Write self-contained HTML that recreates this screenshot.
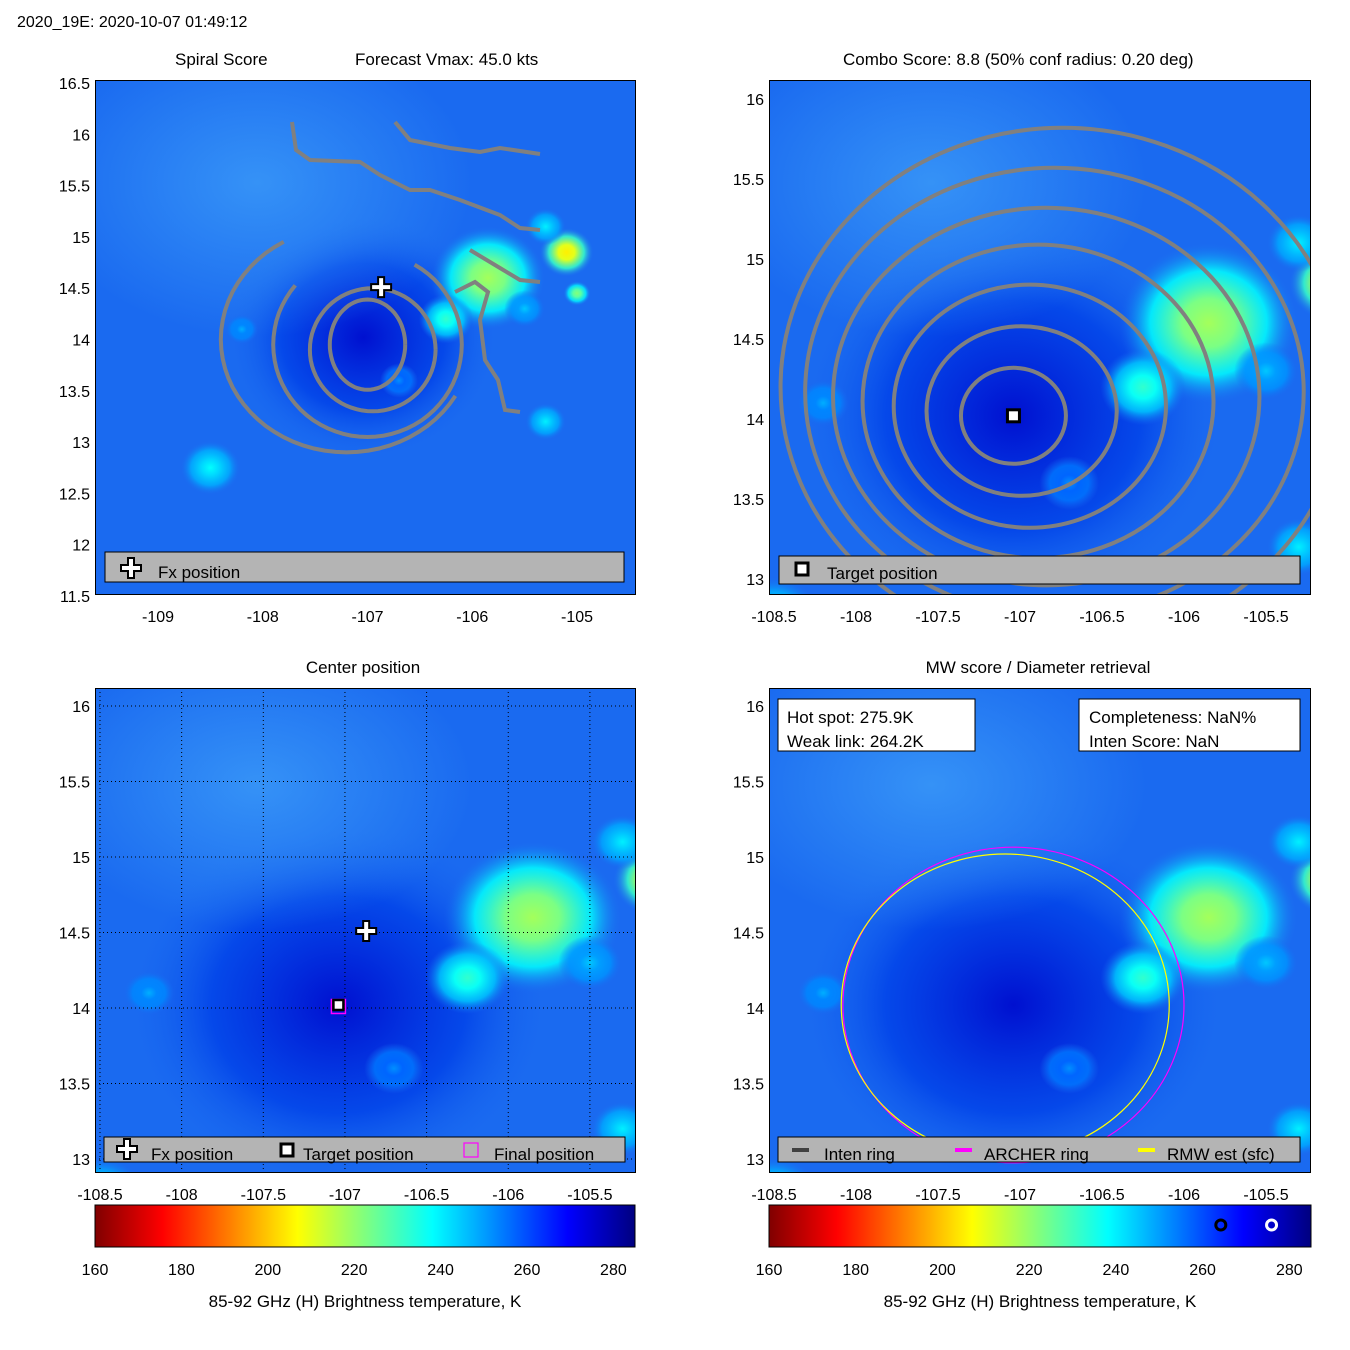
<!DOCTYPE html>
<html><head><meta charset="utf-8">
<style>
body{margin:0;background:#fff;}
svg{display:block;font-family:"Liberation Sans",sans-serif;}
text{fill:#000;}
</style></head>
<body>
<svg id="s" width="1350" height="1350" xmlns="http://www.w3.org/2000/svg">
<defs>
<linearGradient id="jetR" x1="0" x2="1" y1="0" y2="0">
<stop offset="0" stop-color="#800000"/><stop offset="0.125" stop-color="#ff0000"/>
<stop offset="0.375" stop-color="#ffff00"/><stop offset="0.625" stop-color="#00ffff"/>
<stop offset="0.875" stop-color="#0000ff"/><stop offset="1" stop-color="#000080"/>
</linearGradient>
<clipPath id="cTL"><rect x="95" y="80" width="540" height="514"/></clipPath>
<clipPath id="cTR"><rect x="769" y="80" width="541" height="514"/></clipPath>
<clipPath id="cBL"><rect x="95" y="688" width="540" height="484"/></clipPath>
<clipPath id="cBR"><rect x="769" y="688" width="541" height="484"/></clipPath>
</defs>
<text x="17" y="27" font-size="16">2020_19E: 2020-10-07 01:49:12</text>
<text x="175" y="65" font-size="17">Spiral Score</text>
<text x="355" y="65" font-size="17">Forecast Vmax: 45.0 kts</text>
<text x="843" y="65" font-size="17">Combo Score: 8.8  (50% conf radius: 0.20 deg)</text>
<text x="363" y="673" font-size="17" text-anchor="middle">Center position</text>
<text x="1038" y="673" font-size="17" text-anchor="middle">MW score / Diameter retrieval</text>
<g id="root"></g>
</svg>
<script>
// ---- data ----
const tlXTicks=[-109,-108,-107,-106,-105];
const tlYTicks=[16.5,16,15.5,15,14.5,14,13.5,13,12.5,12,11.5];
const xTicks2=[-108.5,-108,-107.5,-107,-106.5,-106,-105.5];
const trYTicks=[16,15.5,15,14.5,14,13.5,13];
const cbTicks=[160,180,200,220,240,260,280];
// warm spots: lon, lat, Tb(K), radius(deg)
const spotLon=[-105.1,-105.85,-106.25,-105.3,-105.5,-108.5,-106.7,-108.2,-105.0,-105.3];
const spotLat=[14.85,14.6,14.2,13.2,14.3,12.75,13.6,14.1,14.45,15.1];
const spotT=[205,218,232,240,245,238,252,248,222,240];
const spotR=[0.2,0.42,0.2,0.15,0.15,0.22,0.14,0.12,0.1,0.15];
// TL contour ellipses: center lon, lat, rLon, rLat (deg), arc start/end deg
const tlCLon=[-107.0,-106.95,-107.0,-107.2];
const tlCLat=[13.95,13.9,13.95,14.0];
const tlRLon=[0.36,0.6,0.9,1.2];
const tlRLat=[0.44,0.6,0.9,1.1];
const tlA0=[0,0,140,120];
const tlA1=[360,360,420,330];
// TR concentric contours around target
const trRLon=[0.32,0.58,0.83,1.07,1.3,1.52,1.72];
const trRLat=[0.3,0.53,0.76,0.98,1.18,1.4,1.62];
const target=[-107.04,14.02];
const fx=[-106.87,14.51];
const finalPos=[-107.04,14.01];
const hotSpot=275.9, weakLink=264.2;
const rmwR=[1.0,1.0], archerR=[1.04,1.045];
// ---- helpers ----
const NS="http://www.w3.org/2000/svg";
const root=document.getElementById('root');
function mk(tag,at,par){const e=document.createElementNS(NS,tag);for(const k in at)e.setAttribute(k,at[k]);(par||root).appendChild(e);return e;}
function jet(T){let v=(285-T)/125;v=Math.max(0,Math.min(1,v));
 const f=(a)=>Math.max(0,Math.min(1,1.5-Math.abs(4*v-a)));
 return `rgb(${Math.round(255*f(3))},${Math.round(255*f(2))},${Math.round(255*f(1))})`;}
const panels=[
 {k:'TL',x0:95,y0:80,w:540,h:514,ax:(l)=>158+(l+109)*104.75,ay:(a)=>83+(16.5-a)*102.6,xt:tlXTicks,yt:tlYTicks,sx:104.75,sy:102.6},
 {k:'TR',x0:769,y0:80,w:541,h:514,ax:(l)=>774+(l+108.5)*164,ay:(a)=>99+(16-a)*160,xt:xTicks2,yt:trYTicks,sx:164,sy:160},
 {k:'BL',x0:95,y0:688,w:540,h:484,ax:(l)=>100+(l+108.5)*163.3,ay:(a)=>706+(16-a)*151,xt:xTicks2,yt:trYTicks,sx:163.3,sy:151},
 {k:'BR',x0:769,y0:688,w:541,h:484,ax:(l)=>774+(l+108.5)*164,ay:(a)=>706+(16-a)*151,xt:xTicks2,yt:trYTicks,sx:164,sy:151}
];
panels.forEach((p,pi)=>{
 const g=mk('g',{'clip-path':`url(#c${p.k})`});
 
 
 const bg=mk('rect',{x:p.x0,y:p.y0,width:p.w,height:p.h,fill:'#1a6af0'},g);
 const rg=mk('radialGradient',{id:'dk'+pi},document.querySelector('defs'));
 mk('stop',{offset:'0','stop-color':'#0010d0'},rg);mk('stop',{offset:'0.6','stop-color':'#0040e8','stop-opacity':'0.8'},rg);mk('stop',{offset:'1','stop-color':'#1a6af0','stop-opacity':'0'},rg);
 const dk=mk('ellipse',{cx:p.ax(target[0]),cy:p.ay(target[1]),rx:p.sx*1.3,ry:p.sy*1.2,fill:`url(#dk${pi})`},g);
 
 const lg=mk('radialGradient',{id:'lt'+pi},document.querySelector('defs'));
 mk('stop',{offset:'0','stop-color':'#3c9cf8','stop-opacity':'0.8'},lg);mk('stop',{offset:'1','stop-color':'#3c9cf8','stop-opacity':'0'},lg);
 mk('ellipse',{cx:p.x0+p.w*0.3,cy:p.y0+p.h*0.2,rx:p.w*0.4,ry:p.h*0.3,fill:`url(#lt${pi})`},g);
 spotLon.forEach((lo,i)=>{
  const gid=`sp${pi}_${i}`;const sg=mk('radialGradient',{id:gid},document.querySelector('defs'));
  mk('stop',{offset:'0','stop-color':jet(spotT[i])},sg);mk('stop',{offset:'0.3','stop-color':jet(spotT[i]+5)},sg);mk('stop',{offset:'0.65','stop-color':jet((spotT[i]+258)/2),'stop-opacity':'0.85'},sg);mk('stop',{offset:'1','stop-color':'#1a6af0','stop-opacity':'0'},sg);
  const c=mk('ellipse',{cx:p.ax(lo),cy:p.ay(spotLat[i]),rx:spotR[i]*p.sx*1.3,ry:spotR[i]*p.sy*1.2,fill:`url(#${gid})`},g);
  
 });
 if(p.k==='TL'){
  tlCLon.forEach((lo,i)=>{
   let d='';for(let a=tlA0[i];a<=tlA1[i];a+=5){const r=a*Math.PI/180;const x=p.ax(lo+tlRLon[i]*Math.cos(r)),y=p.ay(tlCLat[i]+tlRLat[i]*Math.sin(r));d+=(d?'L':'M')+x.toFixed(1)+','+y.toFixed(1);}
   const c=mk('path',{d:d,fill:'none',stroke:'#808080','stroke-width':4},g);
   
  });
  const c1=mk('path',{d:'M292,122 L296,150 L310,160 L360,162 L380,175 L410,190 L430,190 L460,200 L500,215 L520,228 L540,230',fill:'none',stroke:'#808080','stroke-width':4},g);
  
  const c2=mk('path',{d:'M395,122 L410,140 L450,148 L480,152 L500,148 L540,154',fill:'none',stroke:'#808080','stroke-width':4},g);
  
  const c3=mk('path',{d:'M470,250 L500,268 L520,280 L540,282 M455,292 L475,282 L488,292 L480,320 L485,360 L498,380 L505,410 L520,412',fill:'none',stroke:'#808080','stroke-width':4},g);
  
 }
 if(p.k==='TR'){
  trRLon.forEach((rl,i)=>{
   const c=mk('ellipse',{cx:p.ax(target[0]+0.05*i),cy:p.ay(target[1]+0.03*i),rx:rl*p.sx,ry:trRLat[i]*p.sy,fill:'none',stroke:'#808080','stroke-width':4},g);
   
  });
 }
 if(p.k==='BL'){
  p.xt.forEach(t=>{const l=mk('line',{x1:p.ax(t),x2:p.ax(t),y1:p.y0,y2:p.y0+p.h,stroke:'#000','stroke-width':1,'stroke-dasharray':'1,3'},g);});
  p.yt.forEach(t=>{const l=mk('line',{x1:p.x0,x2:p.x0+p.w,y1:p.ay(t),y2:p.ay(t),stroke:'#000','stroke-width':1,'stroke-dasharray':'1,3'},g);});
 }
 if(p.k==='BR'){
  const a=mk('ellipse',{cx:p.ax(target[0]),cy:p.ay(target[1]),rx:archerR[0]*p.sx,ry:archerR[1]*p.sy,fill:'none',stroke:'#ff00ff','stroke-width':1.2},g);
  
  const y=mk('ellipse',{cx:p.ax(target[0]-0.05),cy:p.ay(target[1]),rx:rmwR[0]*p.sx,ry:rmwR[1]*p.sy,fill:'none',stroke:'#ffff00','stroke-width':1.2},g);
  
 }
 const fr=mk('rect',{x:p.x0+0.5,y:p.y0+0.5,width:p.w,height:p.h,fill:'none',stroke:'#000','stroke-width':1});
 
 p.xt.forEach(t=>{const tx=mk('text',{x:p.ax(t),y:p.y0+p.h+28,'font-size':16,'text-anchor':'middle'});tx.textContent=t;});
 p.yt.forEach(t=>{const tx=mk('text',{x:p.x0-5,y:p.ay(t)+6,'font-size':16,'text-anchor':'end'});tx.textContent=t;});
});
function cross(x,y){const d=`M${x-3},${y-10}h6v7h7v6h-7v7h-6v-7h-7v-6h7z`;return mk('path',{d:d,fill:'#fff',stroke:'#000','stroke-width':2});}
function sq(x,y,col){return mk('rect',{x:x-6,y:y-6,width:12,height:12,fill:'#fff',stroke:col,'stroke-width':3});}
let m=cross(panels[0].ax(fx[0]),panels[0].ay(fx[1]));
m=sq(panels[1].ax(target[0]),panels[1].ay(target[1]),'#000');
m=cross(panels[2].ax(fx[0]),panels[2].ay(fx[1]));
m=mk('rect',{x:panels[2].ax(finalPos[0])-7,y:panels[2].ay(finalPos[1])-7,width:14,height:14,fill:'none',stroke:'#ff00ff','stroke-width':1.5});
m=sq(panels[2].ax(target[0]),panels[2].ay(target[1]),'#000');m.setAttribute('width',10);m.setAttribute('height',10);m.setAttribute('x',panels[2].ax(target[0])-5);m.setAttribute('y',panels[2].ay(target[1])-5);m.setAttribute('stroke-width',2.5);
function legBox(x,y,w,h,name){const r=mk('rect',{x:x,y:y,width:w,height:h,fill:'#b4b4b4',stroke:'#000','stroke-width':1});}
function txt(x,y,s,name,sz){const t=mk('text',{x:x,y:y,'font-size':sz||17});t.textContent=s;}
legBox(105,552,519,30,'legend-box');cross(131,568);txt(158,578,'Fx position','legend-fx');
legBox(779,556,521,28,'legend-box');sq(802,569,'#000');txt(827,579,'Target position','legend-target');
legBox(104,1137,521,25,'legend-box');cross(127,1149);txt(151,1160,'Fx position','legend-fx');
sq(287,1150,'#000');txt(303,1160,'Target position','legend-target');
mk('rect',{x:464,y:1143,width:14,height:14,fill:'none',stroke:'#ff00ff','stroke-width':1.2});txt(494,1160,'Final position','legend-final');
legBox(778,1137,522,25,'legend-box');
mk('rect',{x:792,y:1148,width:17,height:4,fill:'#404040'});txt(824,1160,'Inten ring','legend-inten');
mk('rect',{x:955,y:1148,width:17,height:4,fill:'#ff00ff'});txt(984,1160,'ARCHER ring','legend-archer');
mk('rect',{x:1138,y:1148,width:17,height:4,fill:'#ffff00'});txt(1167,1160,'RMW est (sfc)','legend-rmw');
let b=mk('rect',{x:778,y:699,width:197,height:52,fill:'#fff',stroke:'#000'});
txt(787,723,'Hot spot: '+hotSpot.toFixed(1)+'K','hot-spot-text');txt(787,747,'Weak link: '+weakLink.toFixed(1)+'K','weak-link-text');
b=mk('rect',{x:1079,y:699,width:221,height:52,fill:'#fff',stroke:'#000'});
txt(1089,723,'Completeness: NaN%','completeness-text');txt(1089,747,'Inten Score: NaN','inten-score-text');
[[95,540],[769,542]].forEach((c,ci)=>{
 const cb=mk('rect',{x:c[0],y:1205,width:c[1],height:42,fill:'url(#jetR)',stroke:'#000'});
 const cx=(T)=>c[0]+(T-160)*c[1]/125;
 cbTicks.forEach(t=>{const tx=mk('text',{x:cx(t),y:1275,'font-size':16,'text-anchor':'middle'});tx.textContent=t;});
 const lb=mk('text',{x:c[0]+c[1]/2,y:1307,'font-size':17,'text-anchor':'middle'});lb.textContent='85-92 GHz (H) Brightness temperature, K';
 if(ci===1){
  const w=mk('circle',{cx:cx(weakLink),cy:1225,r:5,fill:'none',stroke:'#000','stroke-width':3});
  const h=mk('circle',{cx:cx(hotSpot),cy:1225,r:5,fill:'none',stroke:'#fff','stroke-width':3});
 }
});
</script>
</body></html>
